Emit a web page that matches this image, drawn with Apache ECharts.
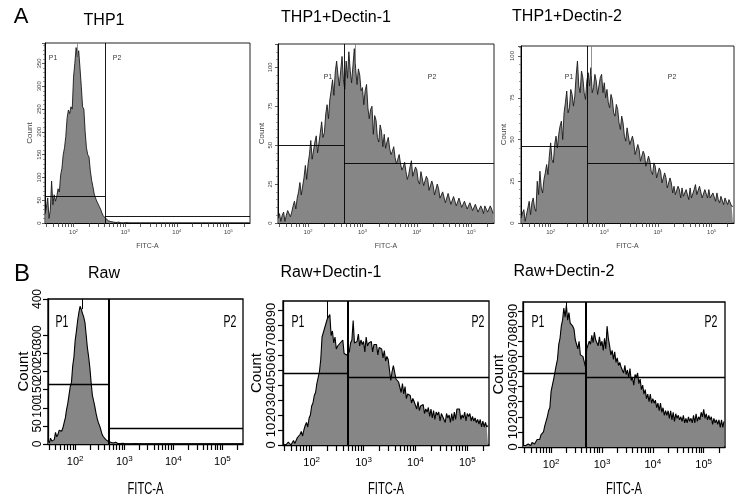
<!DOCTYPE html>
<html><head><meta charset="utf-8">
<script src="https://cdn.jsdelivr.net/npm/echarts@6/dist/echarts.min.js"></script>
<style>html,body{margin:0;padding:0;background:#fff}#c{width:735px;height:502px}</style>
</head><body><div id="c"></div>
<script>
// ---------- DATA ----------
// channel mantissas: 40 log-spaced channels per decade
const mantissas = [1.000,1.059,1.122,1.189,1.259,1.334,1.413,1.496,1.585,1.679,
                   1.778,1.884,1.995,2.113,2.239,2.371,2.512,2.661,2.818,2.985,
                   3.162,3.350,3.548,3.758,3.981,4.217,4.467,4.732,5.012,5.309,
                   5.623,5.957,6.310,6.683,7.079,7.499,7.943,8.414,8.913,9.441];
const decades = [10,100,1000,10000,100000];
const channelMin = 28, channelMax = 262144;
const tickMantissas = [1,2,3,4,5,6,7,8,9];
const decadeLabels = [100,1000,10000,100000];

const panelTitles = ['THP1','THP1+Dectin-1','THP1+Dectin-2','Raw','Raw+Dectin-1','Raw+Dectin-2'];
const rowLetters = ['A','B'];
const gateNames = ['P1','P2'];
const xName = 'FITC-A';
const yName = 'Count';

const countsTHP1 = [
 20,35,55,10,28,92,40,62,48,58,75,68,105,120,150,165,190,230,248,240,
 255,250,320,350,385,365,378,340,300,255,250,200,165,150,145,115,94,80,64,55,
 48,42,36,30,22,16,12,10,7,5,4,3,3,2,2,1,1,2,1,0,
 1,0,0,1,0,0,0,0,1,0,0,0,0,0,0,0,0,0,0,0,
 0,0,0,0,0,0,0,0,0,0,0,0,0,0,0,0,0,0,0,0,
 0,0,0,0,0,0,0,0,0,0,0,0,0,0,0,0,0,0,0,0,
 0,0,0,0,0,0,0,0,0,0,0,0,0,0,0,0,0,0,0,0,
 0,0,0,0,0,0,0,0,0,0,0,0,0,0,0,0,0,0,0];
const countsTHP1D1 = [
 3,6,1,5,7,1,5,8,9,4,7,11,14,9,16,20,26,18,17,29,
 37,28,38,44,53,41,40,52,56,45,45,58,65,55,58,70,76,67,79,85,
 92,82,97,104,95,88,98,107,92,86,104,93,110,98,90,101,112,99,89,99,
 95,85,87,76,85,89,74,67,73,75,57,69,66,55,52,63,59,49,57,48,
 52,55,48,44,46,49,42,38,41,44,38,34,36,39,33,28,31,36,40,30,
 29,36,34,27,25,33,32,24,23,30,28,21,20,27,24,18,19,25,22,16,
 15,20,20,13,13,19,19,12,12,17,17,11,11,16,15,10,9,14,14,9,
 8,13,13,8,7,12,12,7,9,11,9,6,11,12,7,7,11,9,6];
const countsTHP1D2 = [
 3,6,8,1,2,9,13,5,12,15,9,7,25,17,31,21,18,26,30,35,
 29,40,48,38,36,47,52,45,53,58,61,50,66,72,79,66,69,80,77,70,
 76,88,97,82,78,91,87,78,74,85,90,82,93,78,81,89,85,77,76,87,
 89,78,84,75,80,72,69,77,74,66,64,71,68,60,56,64,60,52,49,57,
 56,47,46,52,48,41,40,47,44,37,36,43,41,34,33,40,37,31,29,36,
 34,27,26,33,31,24,25,30,27,21,21,27,24,18,22,17,16,22,20,15,
 21,16,15,20,19,14,21,15,15,20,23,17,16,22,22,15,14,20,19,15,
 20,15,14,18,18,13,18,14,12,16,15,11,15,13,11,14,13,10,10];
const countsRaw = [
 10,3,16,8,4,12,32,20,26,38,42,35,44,58,72,95,112,135,158,170,
 215,240,285,310,340,362,380,372,360,350,335,300,265,240,210,170,135,120,104,85,
 70,58,50,38,26,20,16,12,9,7,6,5,7,3,2,5,2,1,3,1,
 1,2,1,0,1,0,0,0,1,0,0,1,0,0,0,0,0,0,0,0,
 0,0,0,0,0,0,0,0,0,0,0,0,0,0,0,0,0,0,0,0,
 0,0,0,0,0,0,0,0,0,0,0,0,0,0,0,0,0,0,0,0,
 0,0,0,0,0,0,0,0,0,0,0,0,0,0,0,0,0,0,0,0,
 0,0,0,0,0,0,0,0,0,0,0,0,0,0,0,0,0,0,0];
const countsRawD1 = [
 0,1,0,0,2,1,0,1,3,1,3,5,4,7,9,6,10,13,15,12,
 18,20,26,28,33,35,41,42,49,57,72,71,78,79,84,85,87,73,76,68,
 72,64,66,65,68,68,70,61,62,60,60,62,68,70,83,68,68,69,74,66,
 70,67,69,62,72,66,68,67,69,62,67,66,67,60,65,64,64,58,63,56,
 59,57,57,43,49,53,54,44,43,42,42,35,41,34,39,31,34,33,33,28,
 31,29,30,24,29,23,26,25,27,21,24,22,25,19,24,18,23,17,22,20,
 22,16,21,19,20,15,21,18,20,15,21,16,22,17,24,25,24,17,20,18,
 22,16,21,19,21,16,19,16,18,15,17,14,17,12,16,12,15,12,13];
const countsRawD2 = [
 1,0,1,0,2,1,1,3,4,2,3,5,6,5,8,7,10,14,17,20,
 24,26,37,36,45,44,54,58,68,72,80,84,92,86,94,84,89,82,82,80,
 78,71,72,65,70,61,62,60,59,53,65,64,70,68,74,69,76,71,72,67,
 73,67,70,64,72,65,80,72,67,61,64,58,63,56,59,54,56,53,54,49,
 54,48,51,46,52,44,46,41,48,46,49,42,45,38,41,35,38,32,35,30,
 35,29,32,29,31,26,29,24,29,23,26,21,24,21,24,19,24,18,23,17,
 22,19,21,18,20,17,21,16,19,16,20,17,19,16,21,16,22,17,20,18,
 23,20,25,19,22,18,21,18,20,15,19,16,18,15,18,13,18,13,17];

// single-channel off-scale spikes (channel, count at foot)
const spikeChannel = [120,740,560,138,198,196];
const spikeFoot = [365,102,88,372,84,90];

const yMax = [395,115,106,400,96,96];
const yInterval = [50,25,25,50,10,10];
const gateSplit = [410,457,480,490,500,490];
const gateP1Level = [59,50,46,164,48,49];
const gateP2Level = [15,38.6,35.5,44,45,46];

// ---------- LAYOUT ----------
const allCounts = [countsTHP1,countsTHP1D1,countsTHP1D2,countsRaw,countsRawD1,countsRawD2];
const channels = [];
decades.forEach(d => mantissas.forEach(m => { const v = d*m; if (v >= channelMin && v <= channelMax) channels.push(v); }));
const tickValues = [];
decades.forEach(d => tickMantissas.forEach(m => { const v = d*m; if (v >= channelMin && v <= channelMax) tickValues.push(v); }));

const grids = [
 {left:45, top:43, width:205, height:180},
 {left:278, top:44, width:216, height:179},
 {left:521, top:46, width:213, height:177},
 {left:48, top:299, width:195, height:145},
 {left:283, top:301, width:206, height:144},
 {left:523, top:302, width:202, height:145}
];
const countGap = [11,12,13,17,16,15];
const yLabelMargin = [3,5,6,4,5,3];
const SANS = '"Liberation Sans",Arial,sans-serif';

function txt(x, y, text, size, fill, sx) {
  return {type:'text', x:x, y:y, scaleX: sx || 1, silent:true,
    style:{text:text, fontSize:size, fontFamily:SANS, fill:fill, align:'center', verticalAlign:'middle'}};
}
const titlePos = [[104,21],[336,18],[567,17],[104,274],[331,273],[564,272]];
const gateLabelPos = [
  [[53,58],[117,58]], [[328,77],[432,77]], [[569,77],[672,77]],
  [[62,322],[230,322]], [[298,322],[478,322]], [[538,322],[711,322]]
];
const graphics = [
  txt(21,17,rowLetters[0],22,'#000'),
  txt(22,274,rowLetters[1],24,'#000')
];
panelTitles.forEach((t,i)=>graphics.push(txt(titlePos[i][0], titlePos[i][1], t, 16, '#000')));
gateLabelPos.forEach((pp,i)=>{
  const top = i<3;
  pp.forEach((p,j)=>graphics.push(txt(p[0], p[1], gateNames[j], top?8:17, top?'#333':'#000', top?0.85:0.62)));
  if (!top) graphics.push(txt(grids[i].left + grids[i].width/2, 489, xName, 17, '#000', 0.66));
});

const option = {
  animation:false,
  backgroundColor:'#fff',
  grid: grids.map((g,i)=>Object.assign({show:true, borderColor:i<3?'#222':'#000', borderWidth:i<3?1:1.3, containLabel:false}, g)),
  xAxis: grids.map((g,i)=>{
    const top = i<3;
    return {
      type:'log', logBase:10, gridIndex:i, min:channelMin, max:channelMax,
      name: top ? xName : '', nameLocation:'middle', nameGap:20,
      nameTextStyle:{fontSize:7, fontFamily:SANS, color:'#444'},
      axisLine:{show:true, lineStyle:{color:'#000', width: top?1:1.3}},
      axisTick:{show:true, customValues:tickValues, length: top?4:6, lineStyle:{color: top?'#333':'#000', width: top?0.8:1.2}},
      axisLabel:{show:true, customValues:decadeLabels, margin: top?6:11,
        formatter: v => '{b|10}{s|' + Math.round(Math.log10(v)) + '}',
        rich:{ b:{fontSize: top?6:11, fontFamily:SANS, color: top?'#444':'#000'},
               s:{fontSize: top?4:8, fontFamily:SANS, color: top?'#444':'#000', verticalAlign:'top', padding:[0,0, top?3:6,0]} }},
      splitLine:{show:false}
    };
  }),
  yAxis: grids.map((g,i)=>{
    const top = i<3;
    return {
      type:'value', gridIndex:i, min:0, max:yMax[i], interval:yInterval[i],
      name:yName, nameLocation:'middle', nameGap:countGap[i],
      nameTextStyle:{fontSize: top?8:15, fontFamily:SANS, color: top?'#444':'#000'},
      axisLine:{show:true, lineStyle:{color:'#000', width: top?1:1.3}},
      axisTick:{show:true, length: top?3:5, lineStyle:{color: top?'#333':'#000', width: top?0.8:1.2}},
      minorTick:{show: top, splitNumber:5, length:2, lineStyle:{color:'#555', width:0.6}},
      axisLabel:{rotate:90, interval:0, hideOverlap:false, margin:yLabelMargin[i],
        fontSize: top?6:(i===3?12:13), fontFamily:SANS, color: top?'#444':'#000',
        showMaxLabel: (yMax[i] % yInterval[i] === 0)},
      splitLine:{show:false}
    };
  }),
  series: allCounts.map((counts,i)=>{
    const top = i<3;
    return {
      type:'line', xAxisIndex:i, yAxisIndex:i,
      data: channels.map((x,k)=>[x, counts[k]]),
      symbol:'none', smooth:false, clip:true,
      lineStyle:{color: top?'#1a1a1a':'#000', width: top?0.9:1.1},
      areaStyle:{color:'#868686', opacity:1},
      emphasis:{disabled:true},
      markLine:{
        symbol:'none', silent:true, animation:false, label:{show:false}, emphasis:{disabled:true},
        lineStyle:{color:'#000', type:'solid', width: top?0.9:1.3},
        data:[
          {xAxis: gateSplit[i], lineStyle:{width: top?0.9:2}},
          [{coord:[channelMin, gateP1Level[i]]},{coord:[gateSplit[i], gateP1Level[i]]}],
          [{coord:[gateSplit[i], gateP2Level[i]]},{coord:[channelMax, gateP2Level[i]]}],
          [{coord:[spikeChannel[i], spikeFoot[i]], lineStyle:{color: top?'#777':'#000', width: top?0.8:1}},
           {coord:[spikeChannel[i], yMax[i]]}]
        ]
      }
    };
  }),
  graphic: graphics
};
const chart = echarts.init(document.getElementById('c'), null, {renderer:'canvas'});
chart.setOption(option);
</script></body></html>
